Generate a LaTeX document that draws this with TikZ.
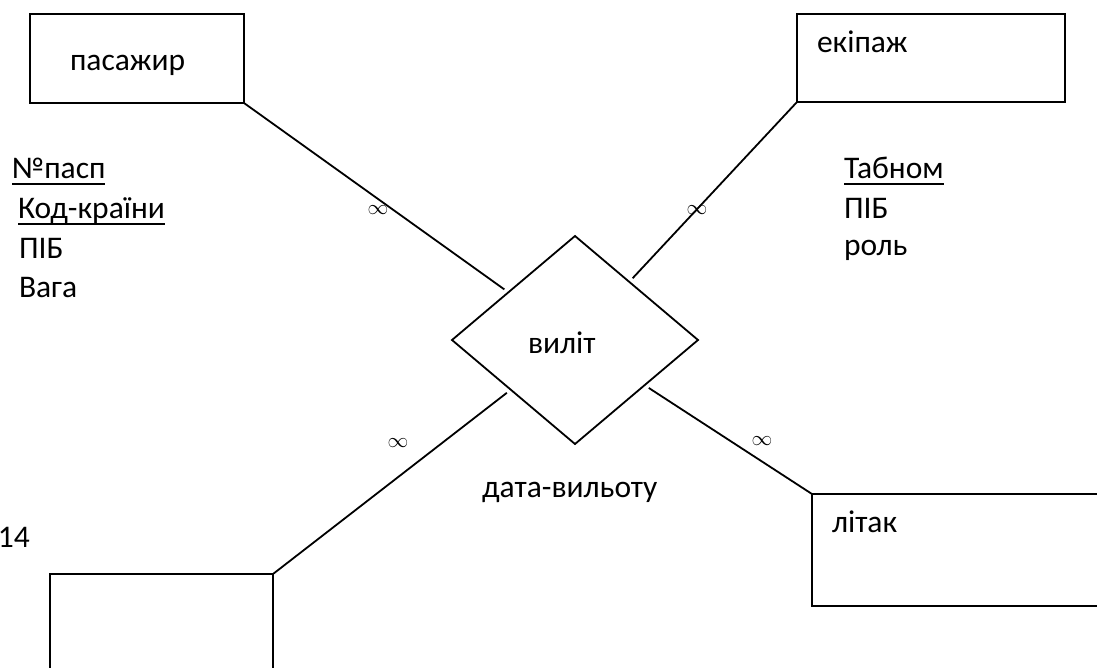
\documentclass[tikz,border=0pt]{standalone}
\usepackage{fontspec}
\setmainfont{Carlito}
\usetikzlibrary{shapes.geometric}
\begin{document}
\begin{tikzpicture}[x=1pt,y=-1pt,
  every node/.style={inner sep=0pt,outer sep=0pt},
  lbl/.style={font=\fontsize{31.5}{36}\selectfont, anchor=base west},
  card/.style={font=\fontsize{22}{26}\selectfont, anchor=center},
  entity/.style={draw, line width=2pt, rectangle},
  rel/.style={draw, line width=1.8pt, diamond, minimum width=246pt, minimum height=208pt, aspect=1.18},
  conn/.style={line width=1.8pt, shorten >=5pt},
  uline/.style={line width=1.8pt}]
\useasboundingbox (0,0) rectangle (1097,667);
\clip (0,0) rectangle (1097,667);

% entities
\node[entity, minimum width=214pt, minimum height=89pt] (pas) at (137,58.5) {};
\node[lbl] (pasl) at (70,70) {пасажир};
\node[entity, minimum width=268pt, minimum height=88pt] (eki) at (931,58) {};
\node[lbl] (ekil) at (817,52) {екіпаж};
\node[entity, minimum width=300pt, minimum height=112pt] (lit) at (962,550) {};
\node[lbl] (litl) at (832,532) {літак};
\node[entity, minimum width=223pt, minimum height=126pt] (bl) at (161.5,637) {};

% relationship
\node[rel] (d) at (575,340) {};
\node[lbl] (dl) at (528,353) {виліт};
\node[lbl] (dattr) at (482,497) {дата-вильоту};

% connectors
\draw[conn] (pas.south east) -- (d);
\draw[conn] (eki.south west) -- (d);
\draw[conn] (bl.north east) -- (d);
\draw[conn] (lit.north west) -- (d);

% cardinalities
\node[card] (c1) at (378,210) {$\infty$};
\node[card] (c2) at (697,210) {$\infty$};
\node[card] (c3) at (398,443) {$\infty$};
\node[card] (c4) at (762,441) {$\infty$};

% passenger attributes
\node[lbl] (a1) at (12,178) {№пасп};
\node[lbl] (a2) at (18,218) {Код-країни};
\node[lbl] (a3) at (19,258) {ПІБ};
\node[lbl] (a4) at (19,297) {Вага};
\draw[uline] ([yshift=-6pt]a1.base west) -- ([yshift=-6pt]a1.base east);
\draw[uline] ([yshift=-6pt]a2.base west) -- ([yshift=-6pt]a2.base east);

% crew attributes
\node[lbl] (b1) at (844,178) {Табном};
\node[lbl] (b2) at (844,218) {ПІБ};
\node[lbl] (b3) at (844,255) {роль};
\draw[uline] ([yshift=-6pt]b1.base west) -- ([yshift=-6pt]b1.base east);

% stray number
\node[lbl] (n14) at (-2,547) {14};
\end{tikzpicture}
\end{document}
